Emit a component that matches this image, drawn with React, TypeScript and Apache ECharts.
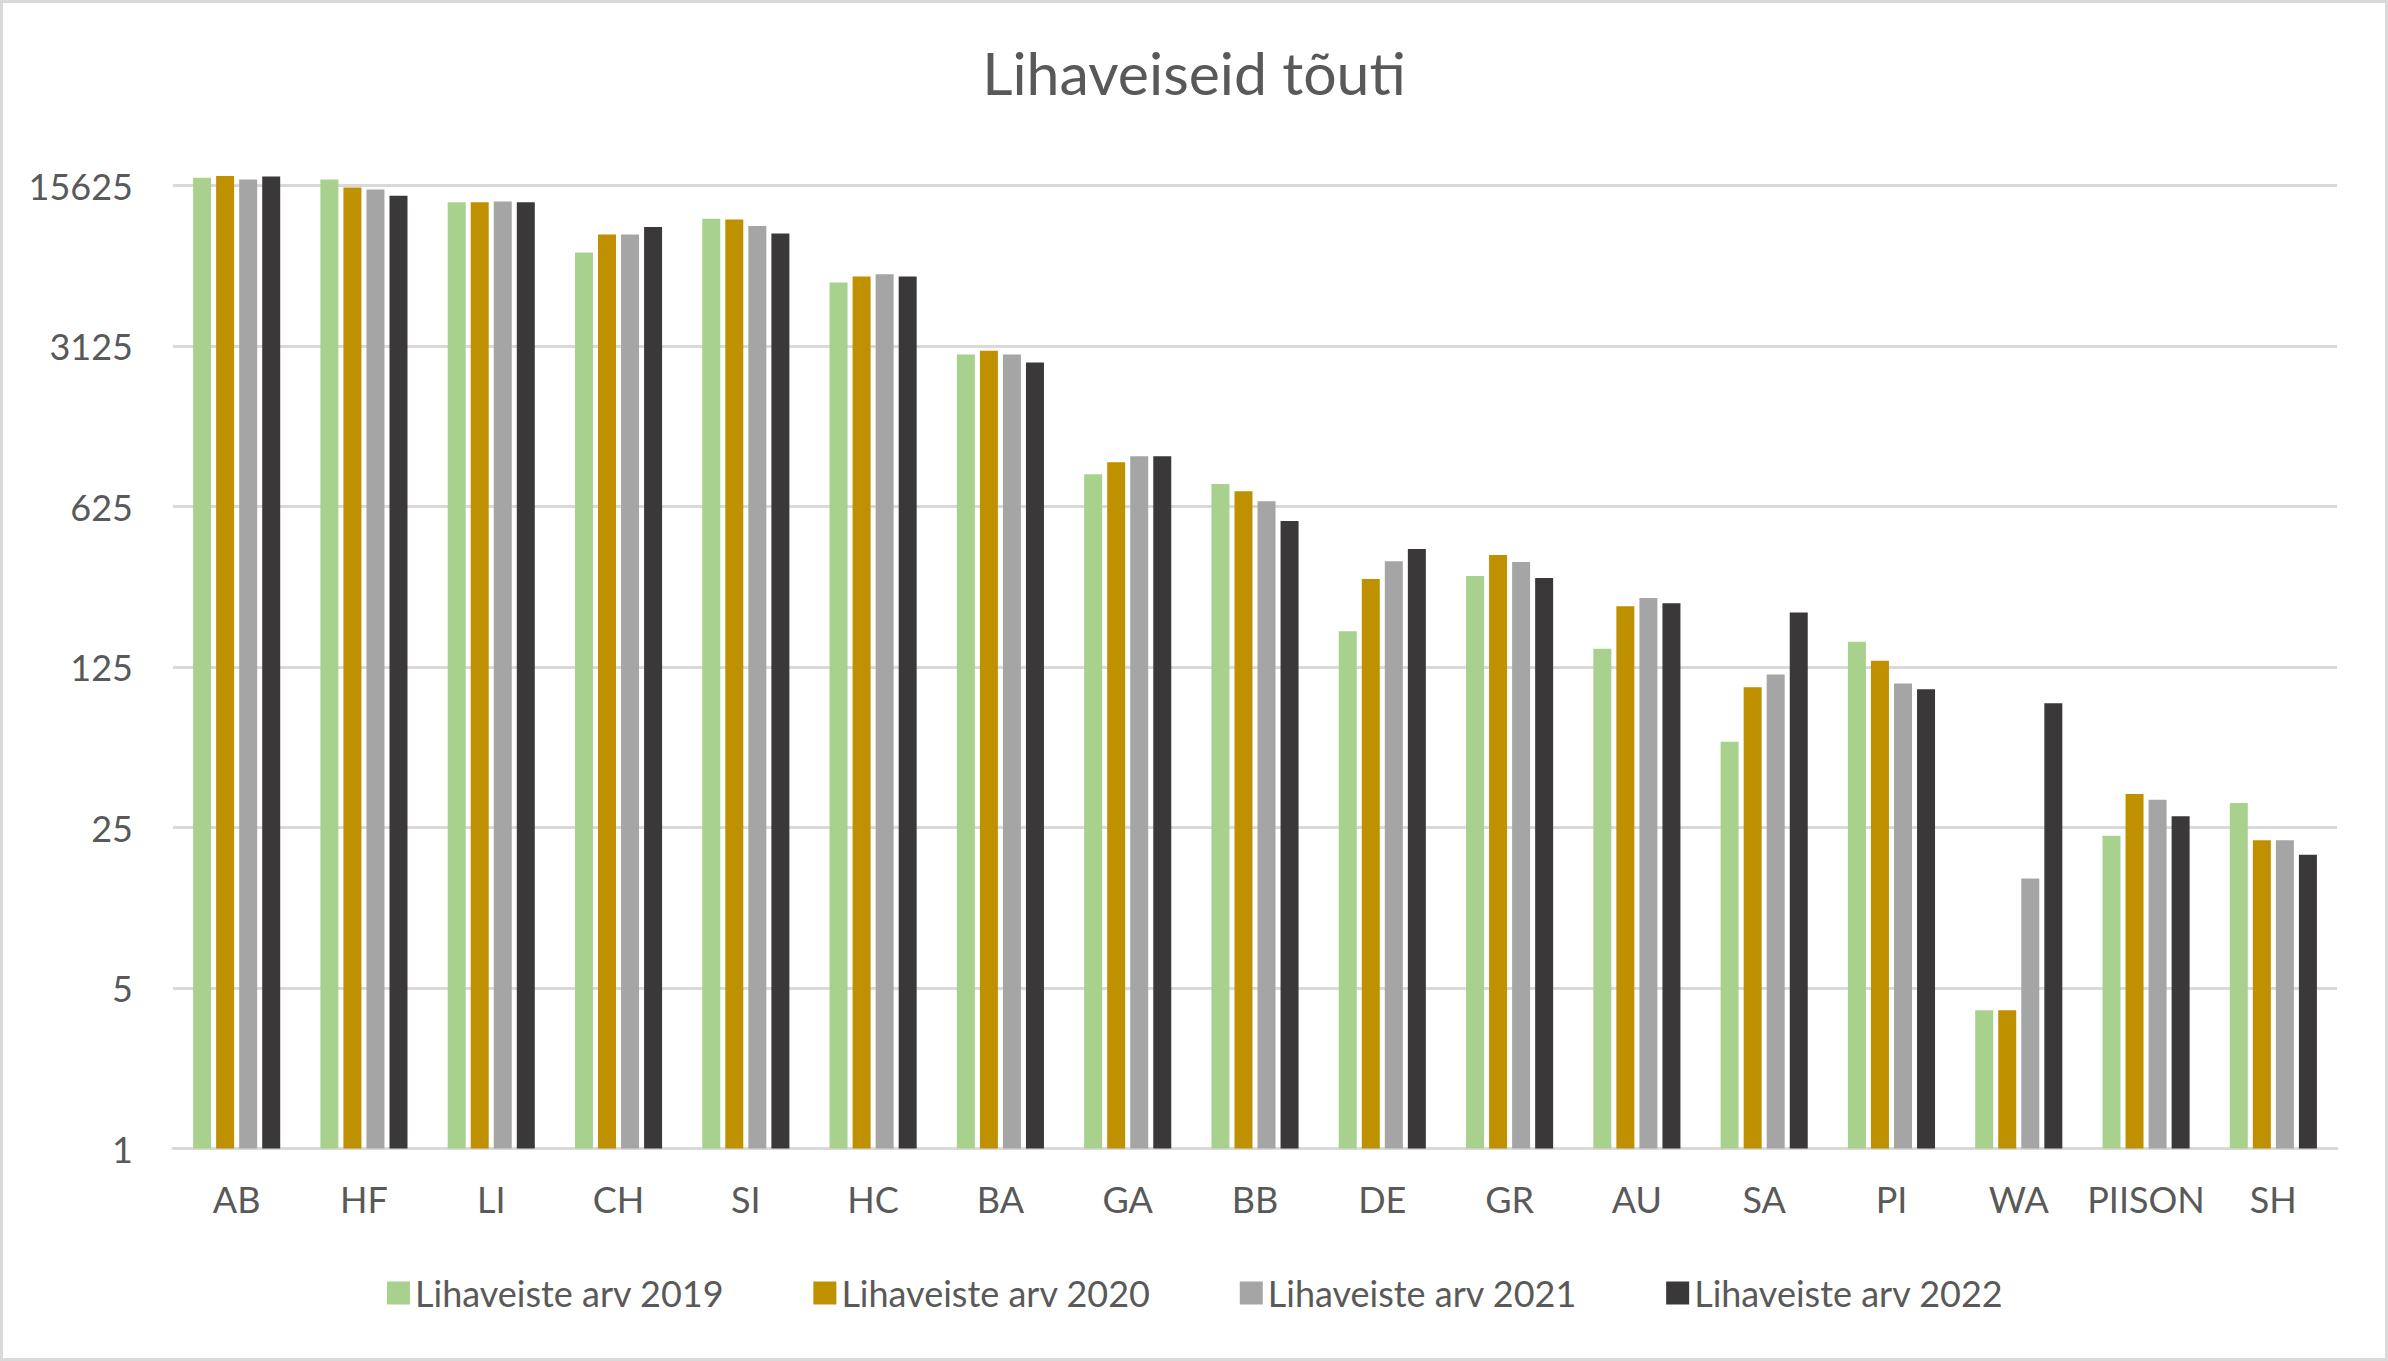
import React, { useEffect, useRef } from "react";
import * as echarts from "echarts";

const categories = ["AB", "HF", "LI", "CH", "SI", "HC", "BA", "GA", "BB", "DE", "GR", "AU", "SA", "PI", "WA", "PIISON", "SH"];
const seriesNames = ["Lihaveiste arv 2019", "Lihaveiste arv 2020", "Lihaveiste arv 2021", "Lihaveiste arv 2022"];
const values2019 = [16900, 16600, 13200, 7990, 11200, 5910, 2870, 864, 783, 179, 311, 150, 59, 161, 4, 23, 32];
const values2020 = [17200, 15300, 13200, 9560, 11100, 6280, 2980, 974, 729, 302, 384, 230, 102, 133, 4, 35, 22];
const values2021 = [16600, 15000, 13300, 9560, 10400, 6410, 2870, 1035, 659, 361, 358, 250, 116, 106, 15, 33, 22];
const values2022 = [17100, 14100, 13200, 10300, 9660, 6280, 2650, 1035, 541, 408, 305, 237, 216, 100, 87, 28, 19];
const yTicks = [1, 5, 25, 125, 625, 3125, 15625];
const colors = ["#A9D18E", "#BF9000", "#A5A5A5", "#3A3838"];
const title = "Lihaveiseid tõuti";

const FONT = "Lato";
const TEXT = "#595959";

export default function App() {
  const ref = useRef<HTMLDivElement>(null);
  useEffect(() => {
    if (!ref.current) return;
    const chart = echarts.init(ref.current, null, { renderer: "svg" });
    const all = [values2019, values2020, values2021, values2022];
    chart.setOption({
      animation: false,
      backgroundColor: "#ffffff",
      textStyle: { fontFamily: FONT, color: TEXT },
      title: {
        text: title,
        left: "center",
        top: 38,
        textStyle: { fontFamily: FONT, fontSize: 59, fontWeight: "normal", color: TEXT },
      },
      graphic: [
        {
          type: "rect",
          shape: { x: 1.5, y: 1.5, width: 2385, height: 1358 },
          style: { fill: "none", stroke: "#D9D9D9", lineWidth: 3 },
          silent: true,
        },
      ],
      legend: {
        left: 382,
        top: 1270,
        itemWidth: 23,
        itemHeight: 23,
        itemGap: 89,
        icon: "rect",
        data: seriesNames,
        textStyle: { fontFamily: FONT, fontSize: 36, color: TEXT },
      },
      grid: { left: 173, right: 51, top: 185.5, bottom: 212.5, containLabel: false },
      xAxis: {
        type: "category",
        data: categories,
        axisTick: { show: false },
        axisLine: { show: true, lineStyle: { color: "#D9D9D9", width: 3 } },
        axisLabel: { fontFamily: FONT, fontSize: 36, color: TEXT, margin: 32, interval: 0 },
        splitLine: { show: false },
      },
      yAxis: {
        type: "log",
        logBase: 5,
        min: yTicks[0],
        max: yTicks[yTicks.length - 1],
        axisLine: { show: false },
        axisTick: { show: false },
        axisLabel: {
          fontFamily: FONT,
          fontSize: 36,
          color: TEXT,
          margin: 40,
          formatter: (v: number) => {
            const r = Math.round(v);
            return yTicks.includes(r) ? String(r) : "";
          },
        },
        splitLine: { show: true, lineStyle: { color: "#D9D9D9", width: 3 } },
      },
      series: seriesNames.map((name, i) => ({
        name,
        type: "bar",
        data: all[i],
        barWidth: 18,
        barGap: "28%",
        clip: false,
        itemStyle: { color: colors[i], borderWidth: 0 },
      })),
    });
    return () => chart.dispose();
  }, []);
  return (
    <div
      ref={ref}
      style={{ position: "fixed", left: 0, top: 0, width: 2388, height: 1361 }}
    />
  );
}
